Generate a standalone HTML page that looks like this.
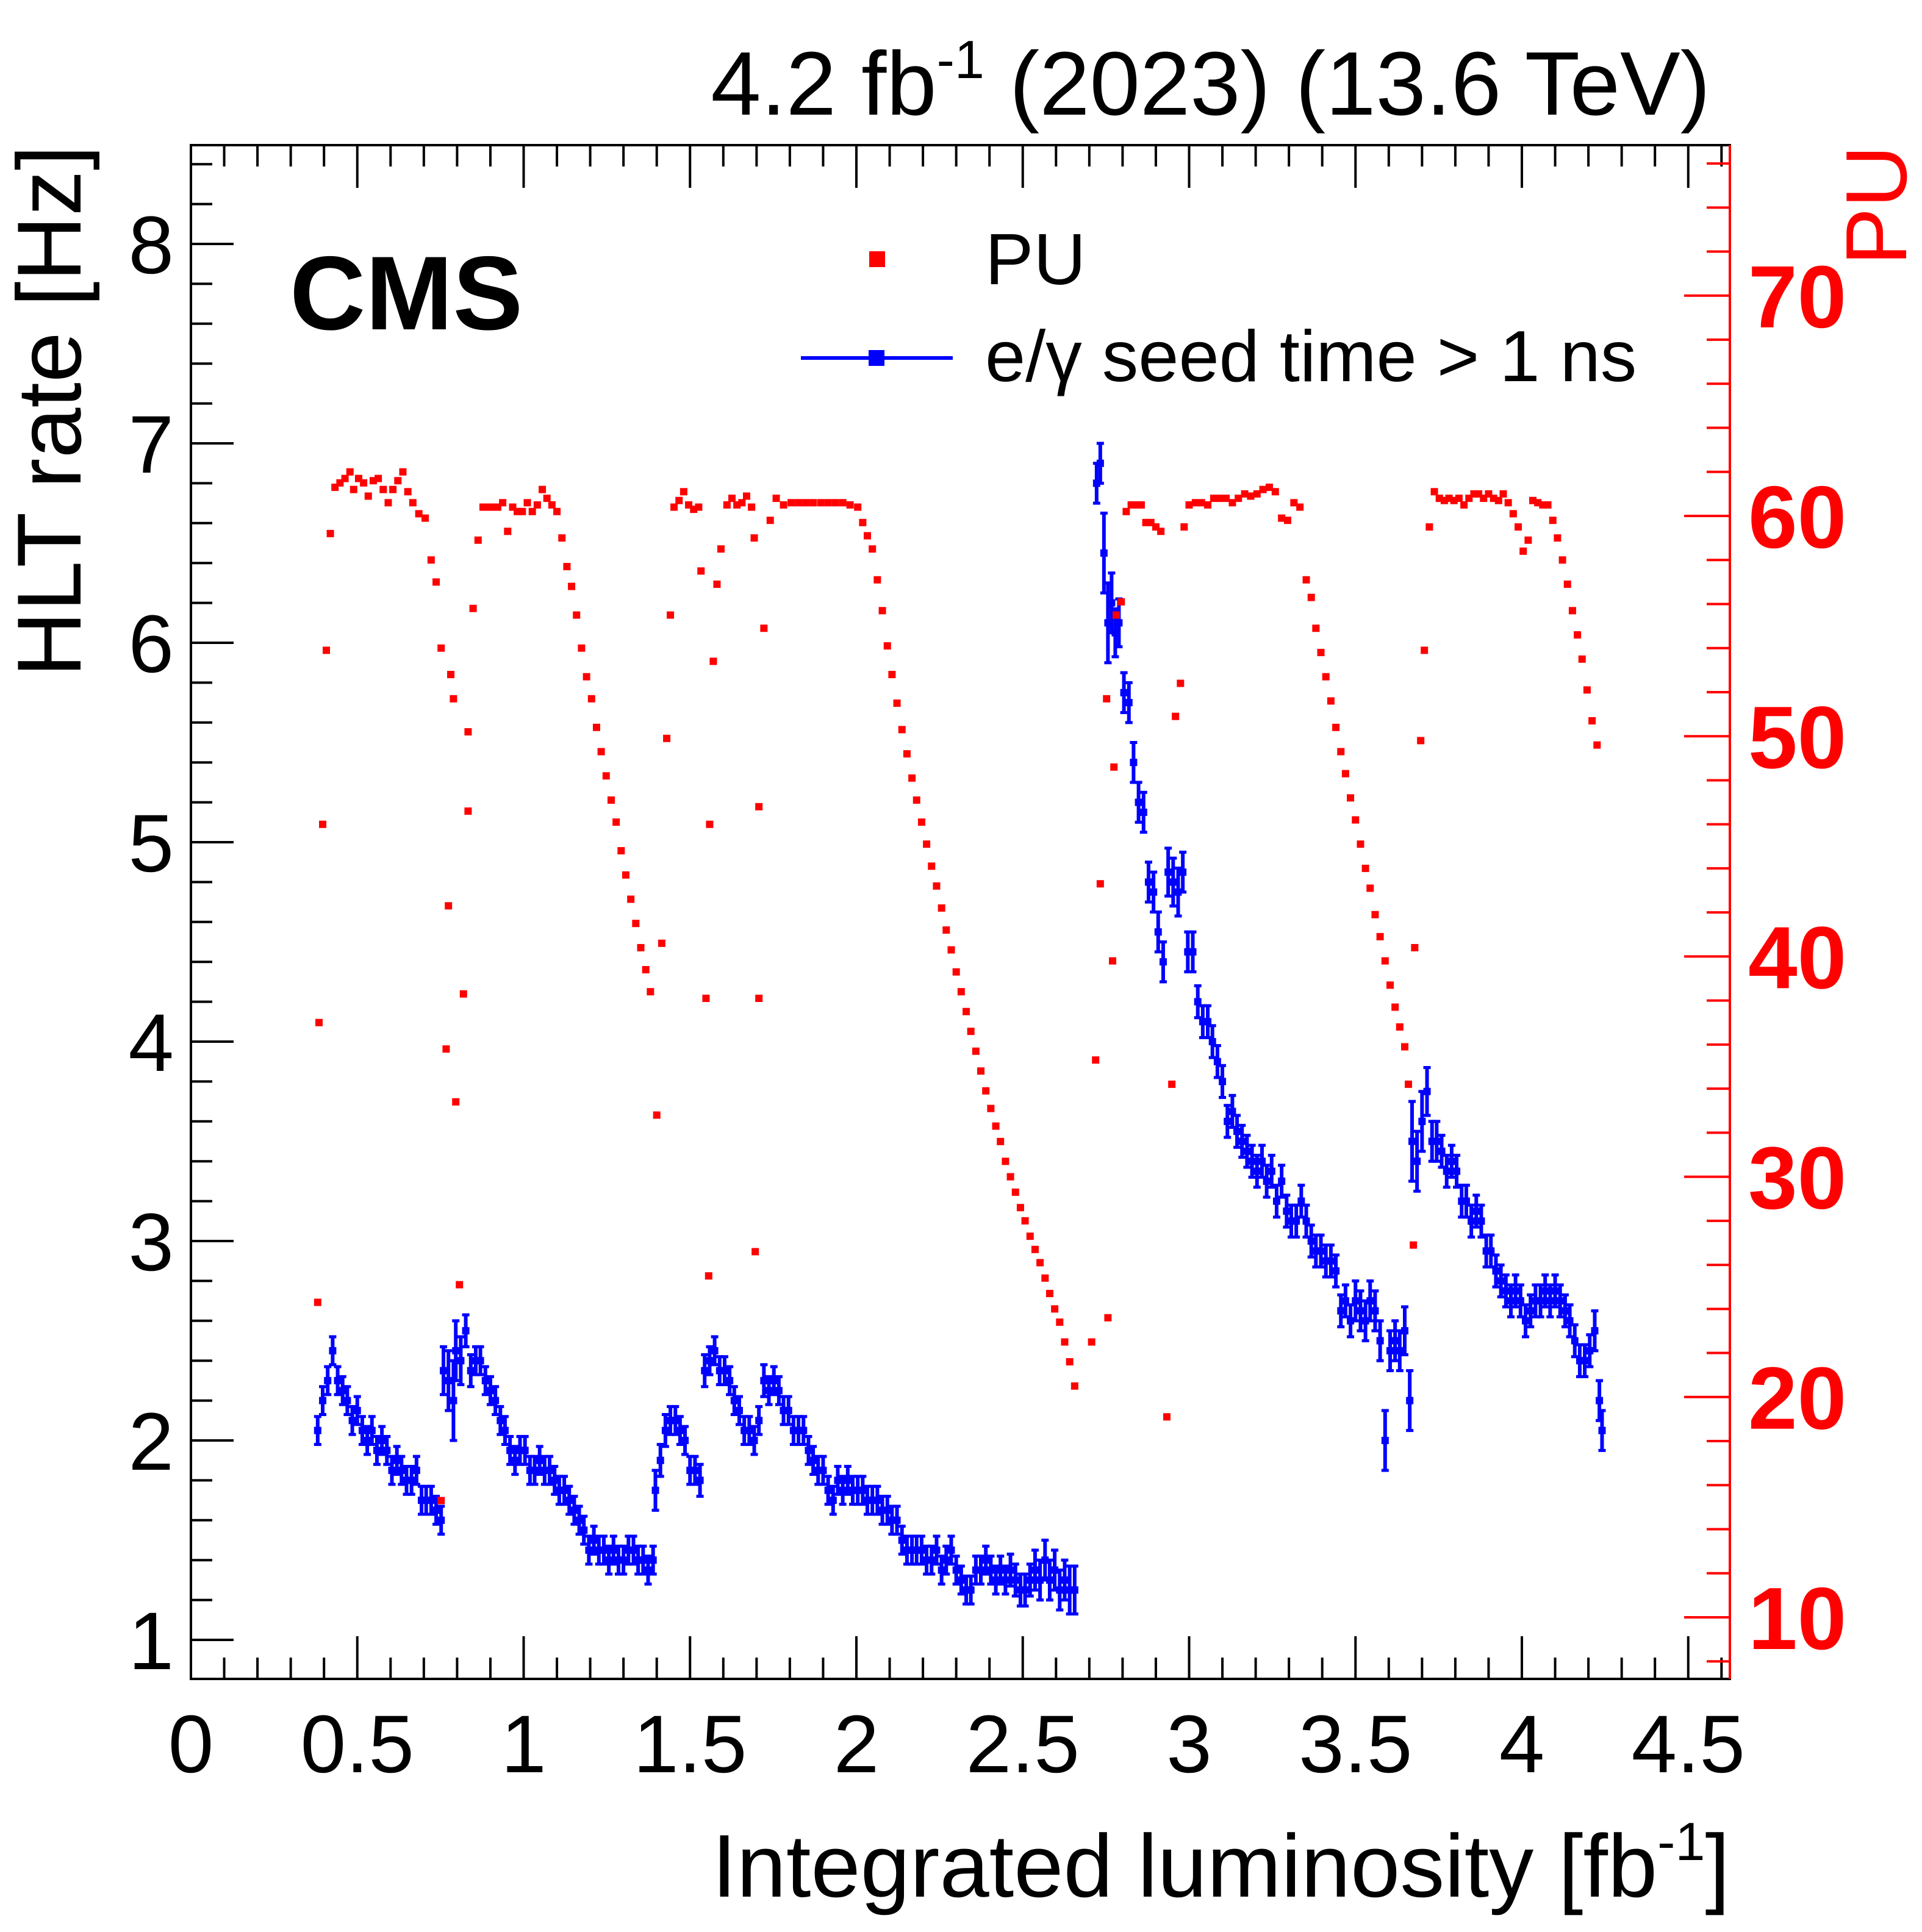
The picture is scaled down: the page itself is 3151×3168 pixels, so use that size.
<!DOCTYPE html>
<html><head><meta charset="utf-8">
<style>
html,body{margin:0;padding:0;background:#fff;}
svg{display:block;font-family:"Liberation Sans",Arial,sans-serif;}
</style></head>
<body>
<svg id="chart" width="3151" height="3168" viewBox="0 0 3151 3168" xmlns="http://www.w3.org/2000/svg">
<rect x="0" y="0" width="3151" height="3168" fill="#fff"/>
<g id="marks"></g>
<g id="axes"></g>
<rect x="313" y="238" width="2523" height="2515" fill="none" stroke="#000" stroke-width="4"/>
<line x1="2836" y1="238" x2="2836" y2="2753" stroke="#f00" stroke-width="4"/>
<text x="2804" y="188" font-size="148" text-anchor="end">4.2 fb<tspan font-size="88" dy="-60">-1</tspan><tspan dy="60"> (2023) (13.6 TeV)</tspan></text>
<text x="475" y="540" font-size="172" font-weight="bold">CMS</text>
<text transform="translate(132,238) rotate(-90)" font-size="149" text-anchor="end">HLT rate [Hz]</text>
<text transform="translate(3125,238) rotate(-90)" font-size="142" fill="#f00" text-anchor="end">PU</text>
<text x="2836" y="3110" font-size="146" text-anchor="end">Integrated luminosity [fb<tspan font-size="88" dy="-60">-1</tspan><tspan dy="60">]</tspan></text>
<g>
<rect x="1425" y="412" width="26" height="26" fill="#f00"/>
<text x="1615" y="466" font-size="119">PU</text>
<line x1="1313" y1="587" x2="1562" y2="587" stroke="#00f" stroke-width="6"/>
<rect x="1424" y="574" width="26" height="26" fill="#00f"/>
<text x="1615" y="625" font-size="119">e/γ seed time &gt; 1 ns</text>
</g>
</svg>
<script>
// ---- data ----
const puX = [0.381,0.385,0.396,0.407,0.419,0.433,0.448,0.463,0.478,0.489,0.504,0.519,0.533,0.548,0.563,0.578,0.593,0.607,0.622,0.637,0.652,0.667,0.685,0.704,0.722,0.737,0.752,
0.752,0.767,0.774,0.781,0.789,0.796,0.807,0.819,0.833,0.833,
0.848,0.863,0.878,0.893,0.907,0.922,0.937,0.952,0.967,0.981,0.996,1.011,1.026,1.041,1.056,1.070,1.085,1.100,1.115,1.130,1.144,1.159,1.174,1.189,1.204,1.219,1.233,1.248,1.263,1.278,1.293,1.307,1.322,1.337,1.352,1.367,1.381,1.415,1.400,
1.430,1.441,1.452,1.467,1.481,1.496,1.511,1.526,1.533,1.548,1.556,1.559,1.570,1.581,1.593,1.611,1.626,1.641,1.656,1.670,1.685,1.693,1.707,1.707,1.696,1.722,1.741,1.759,
1.781,1.804,1.826,1.848,1.870,1.893,1.915,1.937,1.959,1.981,2.004,
2.019,2.033,2.048,2.063,2.078,2.093,2.107,2.122,2.137,2.152,2.167,2.181,2.196,2.211,2.226,2.241,2.256,2.270,2.285,2.300,2.315,2.330,2.344,2.359,2.374,2.389,2.404,2.419,2.433,2.448,2.463,2.478,2.493,2.507,2.522,2.537,2.552,2.567,2.581,2.596,2.611,2.626,2.641,2.656,
2.707,2.719,2.733,2.752,2.756,2.770,2.774,2.781,2.796,2.811,2.826,2.841,2.856,2.870,2.885,2.900,2.915,2.933,2.948,2.959,2.974,2.985,3.000,
3.019,3.037,3.056,3.074,3.093,3.111,3.130,3.148,3.167,3.185,3.204,3.222,3.241,3.259,3.278,3.296,3.315,3.333,
3.352,3.367,3.381,3.396,3.411,3.426,3.441,3.456,3.470,3.485,3.500,3.515,3.530,3.544,3.559,3.574,3.589,3.604,3.619,3.633,3.648,3.659,3.674,3.678,
3.696,3.707,3.722,3.737,3.752,3.767,3.781,3.796,3.811,3.826,3.841,3.856,3.870,3.885,3.900,3.915,3.930,3.944,3.959,3.974,3.989,4.004,4.019,4.033,4.048,4.063,4.078,4.093,
4.107,4.122,4.137,4.152,4.167,4.181,4.196,4.211,4.226];
const puVal = [24.3,37.0,46.0,53.9,59.2,61.3,61.5,61.7,62.0,61.2,61.7,61.5,60.9,61.6,61.7,61.2,60.6,61.2,61.6,62.0,61.1,60.6,60.1,59.9,58.0,57.0,54.0,
15.3,35.8,42.3,52.8,51.7,33.4,25.1,38.3,46.6,50.2,
55.8,58.9,60.4,60.4,60.4,60.4,60.6,59.3,60.4,60.2,60.2,60.6,60.2,60.5,61.2,60.8,60.5,60.2,59.0,57.7,56.8,55.5,54.0,52.7,51.7,50.4,49.3,48.2,47.1,46.1,44.8,43.7,42.6,41.5,40.4,39.4,38.4,40.6,32.8,
49.9,55.5,60.4,60.7,61.1,60.5,60.3,60.4,57.5,38.1,25.5,46.0,53.4,56.9,58.5,60.5,60.8,60.5,60.6,60.9,60.4,59.0,46.8,38.1,26.6,54.9,59.8,60.8,
60.5,60.6,60.6,60.6,60.6,60.6,60.6,60.6,60.6,60.5,60.4,
59.7,59.1,58.5,57.1,55.7,54.1,52.8,51.5,50.3,49.2,48.1,47.1,46.1,45.1,44.1,43.2,42.2,41.2,40.3,39.3,38.4,37.5,36.6,35.7,34.8,33.9,33.1,32.3,31.6,30.7,30.0,29.3,28.6,28.0,27.3,26.7,26.1,25.4,24.7,24.0,23.4,22.5,21.6,20.5,
22.5,35.3,43.3,51.7,23.6,39.8,48.6,55.5,56.1,60.2,60.5,60.5,60.5,59.7,59.7,59.5,59.3,19.1,34.2,50.9,52.4,59.5,60.5,
60.6,60.6,60.5,60.8,60.8,60.8,60.6,60.8,61.0,60.9,61.0,61.2,61.3,61.1,59.9,59.8,60.6,60.4,
57.1,56.3,54.9,53.8,52.7,51.6,50.4,49.3,48.3,47.2,46.2,45.1,44.0,43.1,41.9,40.9,39.8,38.7,37.7,36.8,35.9,34.2,26.9,40.4,
49.8,53.9,59.5,61.1,60.8,60.7,60.8,60.7,60.8,60.5,60.8,61.0,61.0,60.8,61.0,60.8,60.7,61.0,60.6,60.1,59.5,58.4,58.9,60.7,60.6,60.5,60.5,59.8,
59.0,58.0,56.9,55.7,54.6,53.5,52.1,50.7,49.6];

const hltX = [0.381,0.396,0.411,0.426,0.441,0.456,0.470,0.485,0.500,0.515,0.530,0.544,0.559,0.574,0.589,0.604,0.619,0.633,0.648,0.663,0.678,0.693,0.707,0.722,0.737,0.752,
0.759,0.774,0.789,0.796,0.811,0.826,0.841,0.856,0.870,0.885,0.900,0.915,0.930,0.944,0.959,0.974,0.989,1.004,1.019,1.033,1.048,1.063,1.078,1.093,1.107,1.122,1.137,1.152,1.167,1.181,1.196,1.211,1.226,1.241,1.256,1.270,1.285,1.300,1.315,1.330,1.344,1.359,1.374,1.389,
1.396,1.411,1.426,1.441,1.456,1.470,1.485,1.500,1.515,1.530,1.544,1.559,1.574,1.589,1.604,1.619,1.633,1.648,1.663,1.678,1.693,1.707,1.722,1.737,1.752,1.767,1.781,1.796,1.811,1.826,1.841,1.856,1.870,1.885,1.900,1.915,1.930,1.944,1.959,1.974,1.989,2.004,2.019,2.033,2.048,2.063,2.078,2.093,2.107,2.122,2.137,2.152,2.167,2.181,2.196,2.211,2.226,2.241,2.256,2.270,2.285,2.300,2.315,2.330,2.344,2.359,2.374,2.389,2.404,2.419,2.433,2.448,2.463,2.478,2.493,2.507,2.522,2.537,2.552,2.567,2.581,2.596,2.611,2.626,2.641,2.656,
2.722,2.733,2.744,2.756,2.767,2.778,2.789,2.804,2.819,2.833,2.848,2.863,2.878,2.893,2.907,2.922,2.937,2.952,2.967,2.981,2.996,3.011,3.026,3.041,3.056,3.070,3.085,3.100,3.115,3.130,3.144,3.159,3.174,3.189,3.204,3.219,3.233,3.248,3.263,3.278,3.293,3.307,3.322,3.337,3.352,3.367,3.381,3.396,3.411,3.426,3.441,3.456,3.470,3.485,3.500,3.515,3.530,3.544,3.559,3.574,3.589,3.604,3.619,3.633,3.648,3.663,
3.670,3.685,3.700,3.715,3.730,3.744,3.759,3.774,3.789,3.804,3.819,3.833,3.848,3.863,3.878,3.893,3.907,3.922,3.937,3.952,3.967,3.981,3.996,4.011,4.026,4.041,4.056,4.070,4.085,4.100,4.115,4.130,4.144,4.159,4.174,4.189,4.204,4.219,4.233,4.241];
const hltVal = [2.05,2.2,2.3,2.45,2.3,2.25,2.2,2.1,2.15,2.05,2.0,2.05,1.95,2.0,1.95,1.85,1.9,1.85,1.8,1.8,1.85,1.7,1.7,1.7,1.65,1.6,
2.35,2.3,2.2,2.45,2.4,2.55,2.35,2.4,2.4,2.3,2.25,2.2,2.1,2.05,1.95,1.9,1.95,1.95,1.85,1.85,1.9,1.85,1.85,1.8,1.75,1.75,1.7,1.65,1.6,1.55,1.45,1.5,1.45,1.45,1.4,1.45,1.4,1.4,1.45,1.45,1.4,1.4,1.35,1.4,
1.75,1.9,2.05,2.1,2.1,2.05,2.0,1.85,1.85,1.8,2.35,2.4,2.45,2.35,2.35,2.3,2.2,2.15,2.05,2.05,2.0,2.1,2.3,2.25,2.3,2.25,2.15,2.15,2.05,2.05,2.05,1.95,1.9,1.85,1.85,1.75,1.7,1.8,1.75,1.8,1.75,1.75,1.75,1.7,1.7,1.7,1.65,1.65,1.6,1.6,1.5,1.45,1.45,1.45,1.45,1.4,1.4,1.45,1.35,1.4,1.45,1.35,1.3,1.25,1.25,1.35,1.35,1.4,1.35,1.3,1.35,1.3,1.35,1.3,1.25,1.25,1.3,1.35,1.3,1.4,1.3,1.35,1.25,1.3,1.25,1.25,
6.8,6.9,6.45,6.1,6.2,6.05,6.1,5.75,5.7,5.4,5.2,5.15,4.8,4.75,4.55,4.4,4.85,4.8,4.75,4.85,4.45,4.45,4.2,4.1,4.1,4.0,3.9,3.8,3.6,3.65,3.55,3.5,3.45,3.4,3.35,3.4,3.3,3.35,3.2,3.3,3.15,3.1,3.1,3.2,3.1,3.0,2.95,2.95,2.9,2.9,2.85,2.65,2.7,2.6,2.7,2.65,2.6,2.7,2.65,2.5,2.0,2.45,2.5,2.45,2.55,2.2,
3.5,3.4,3.6,3.75,3.5,3.5,3.45,3.35,3.4,3.35,3.2,3.2,3.1,3.15,3.1,2.95,2.95,2.85,2.8,2.75,2.7,2.75,2.7,2.6,2.65,2.7,2.7,2.75,2.7,2.75,2.7,2.65,2.6,2.5,2.4,2.4,2.45,2.55,2.2,2.05];
const hltErr = [0.07,0.07,0.07,0.07,0.07,0.07,0.07,0.07,0.07,0.07,0.07,0.07,0.07,0.07,0.07,0.07,0.07,0.07,0.07,0.07,0.07,0.07,0.07,0.07,0.07,0.07,
0.12,0.15,0.2,0.15,0.12,0.08,0.08,0.07,0.07,0.07,0.07,0.07,0.07,0.07,0.07,0.07,0.07,0.07,0.07,0.07,0.07,0.07,0.07,0.07,0.07,0.07,0.07,0.07,0.07,0.07,0.07,0.07,0.07,0.07,0.07,0.07,0.07,0.07,0.07,0.07,0.07,0.07,0.07,0.07,
0.1,0.08,0.08,0.07,0.07,0.07,0.07,0.07,0.07,0.08,0.08,0.07,0.07,0.07,0.07,0.07,0.07,0.07,0.07,0.07,0.07,0.07,0.08,0.07,0.07,0.07,0.07,0.07,0.07,0.07,0.07,0.07,0.07,0.07,0.07,0.07,0.07,0.07,0.07,0.07,0.07,0.07,0.07,0.07,0.07,0.07,0.07,0.07,0.07,0.07,0.07,0.07,0.07,0.07,0.07,0.07,0.07,0.07,0.07,0.07,0.07,0.07,0.07,0.07,0.07,0.07,0.07,0.07,0.07,0.07,0.07,0.07,0.08,0.08,0.08,0.08,0.08,0.1,0.1,0.1,0.1,0.1,0.1,0.1,0.12,0.12,
0.1,0.1,0.2,0.2,0.15,0.12,0.12,0.1,0.1,0.1,0.1,0.1,0.1,0.1,0.1,0.1,0.12,0.12,0.12,0.1,0.1,0.1,0.08,0.08,0.08,0.08,0.08,0.08,0.08,0.08,0.08,0.08,0.08,0.08,0.08,0.08,0.08,0.08,0.08,0.08,0.08,0.08,0.08,0.08,0.08,0.08,0.08,0.08,0.08,0.08,0.08,0.08,0.08,0.08,0.1,0.1,0.1,0.1,0.1,0.1,0.15,0.1,0.1,0.1,0.12,0.15,
0.2,0.15,0.15,0.12,0.1,0.1,0.08,0.08,0.08,0.08,0.08,0.08,0.08,0.08,0.08,0.08,0.08,0.08,0.08,0.08,0.08,0.08,0.08,0.08,0.08,0.08,0.08,0.08,0.08,0.08,0.08,0.08,0.08,0.08,0.08,0.08,0.08,0.1,0.1,0.1];

const xTickLabels = ["0","0.5","1","1.5","2","2.5","3","3.5","4","4.5"];
const yTickLabels = ["1","2","3","4","5","6","7","8"];
const puTickLabels = ["10","20","30","40","50","60","70"];

// ---- axes ----
const X0=313, X1=2836, Y0=238, Y1=2753;
function sx(x){return X0 + x*545.5;}
function sy(v){return 2689 - (v-1)*327;}
function sp(p){return 2652 - (p-10)*36.12;}
const NS="http://www.w3.org/2000/svg";
function mk(tag, attrs, parent){const e=document.createElementNS(NS,tag);for(const k in attrs)e.setAttribute(k,attrs[k]);parent.appendChild(e);return e;}
const axes=document.getElementById('axes');
const marks=document.getElementById('marks');

for(let i=0;i<=46;i++){
  const x=i*0.1, px=sx(x); if(px>X1) break;
  const major=(i%5===0), len=major?70:35;
  const t1=mk('line',{x1:px,y1:Y1,x2:px,y2:Y1-len,stroke:'#000','stroke-width':4},axes);
  
  
  const t2=mk('line',{x1:px,y1:Y0,x2:px,y2:Y0+len,stroke:'#000','stroke-width':4},axes);
  
  
}
xTickLabels.forEach((s,i)=>{
  const t=mk('text',{x:sx(i*0.5),y:2906,'font-size':134,'text-anchor':'middle'},axes);
  t.textContent=s;
  
  
});
for(let i=0;i<=40;i++){
  const v=0.8+i*0.2, py=sy(v); if(py<Y0) break; if(py>Y1) continue;
  const major=Math.abs(v-Math.round(v))<1e-6, len=major?70:35;
  const t=mk('line',{x1:X0,y1:py,x2:X0+len,y2:py,stroke:'#000','stroke-width':4},axes);
  
  
}
yTickLabels.forEach((s,i)=>{
  const t=mk('text',{x:285,y:sy(i+1)+48,'font-size':134,'text-anchor':'end'},axes);
  t.textContent=s;
  
  
});
for(let p=8;p<=76;p+=2){
  const py=sp(p); if(py<Y0||py>Y1) continue;
  const major=(p%10===0), len=major?75:38;
  const t=mk('line',{x1:X1,y1:py,x2:X1-len,y2:py,stroke:'#f00','stroke-width':4},axes);
  
  
}
puTickLabels.forEach((s,i)=>{
  const t=mk('text',{x:2866,y:sp(10+i*10)+52,'font-size':145,'font-weight':'bold',fill:'#f00'},axes);
  t.textContent=s;
  
  
});

hltX.forEach((x,i)=>{
  const px=sx(x), py=sy(hltVal[i]), e=hltErr[i]*327;
  const g=mk('g',{},marks);
  
  
  mk('line',{x1:px,y1:py-e,x2:px,y2:py+e,stroke:'#00f','stroke-width':6},g);
  mk('line',{x1:px-6,y1:py-e,x2:px+6,y2:py-e,stroke:'#00f','stroke-width':5},g);
  mk('line',{x1:px-6,y1:py+e,x2:px+6,y2:py+e,stroke:'#00f','stroke-width':5},g);
  mk('rect',{x:px-6,y:py-6,width:12,height:12,fill:'#00f'},g);
});
puX.forEach((x,i)=>{
  const r=mk('rect',{x:sx(x)-6,y:sp(puVal[i])-6,width:12,height:12,fill:'#f00'},marks);
  
  
});
</script>
</body></html>
